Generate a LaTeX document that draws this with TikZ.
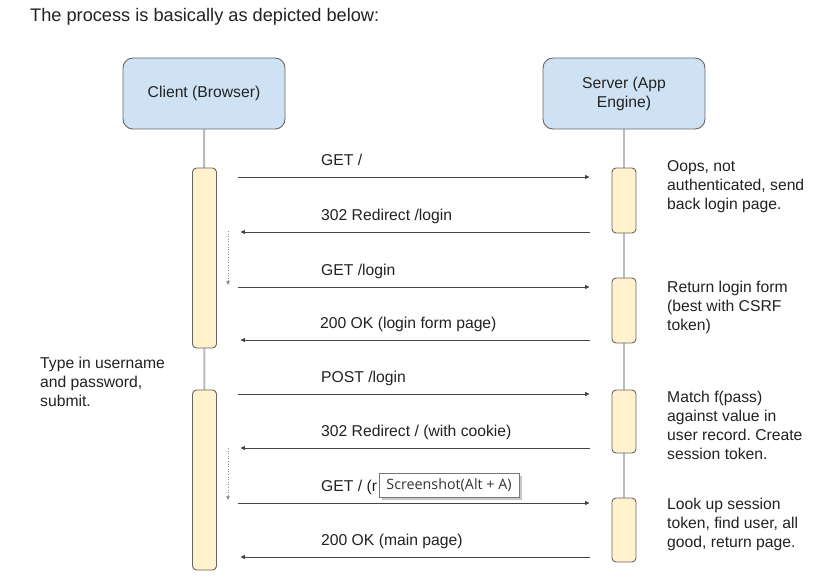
\documentclass[tikz,border=0pt]{standalone}
\usepackage{fontspec}
\setmainfont{Liberation Sans}
\newfontfamily\tipfamily{Open Sans}
\usetikzlibrary{arrows.meta,backgrounds}
\definecolor{headfill}{HTML}{CFE2F3}
\definecolor{actfill}{HTML}{FFF2CC}
\definecolor{boxline}{HTML}{666666}
\definecolor{lifecol}{HTML}{BBBBBB}
\definecolor{msgcol}{HTML}{444444}
\definecolor{txtcol}{HTML}{222222}
\definecolor{tipline}{HTML}{767676}
\newcommand\lblsize{\fontsize{15.7}{19}\selectfont}
\frenchspacing
\begin{document}
\begin{tikzpicture}[x=1pt,y=-1pt,
  head/.style={draw=boxline, fill=headfill, rounded corners=10pt, line width=0.9pt,
    minimum width=162pt, minimum height=71pt, inner sep=0pt, align=center,
    font=\lblsize, text=txtcol},
  act/.style={draw=boxline, fill=actfill, rounded corners=4pt, line width=0.9pt,
    minimum width=24pt, inner sep=0pt},
  life/.style={draw=lifecol, line width=2pt},
  msg/.style={draw=msgcol, line width=0.8pt, -{Triangle[length=4.5pt,width=4pt]}},
  rmsg/.style={msg, shorten <=21.5pt, shorten >=22pt},
  lmsg/.style={msg, shorten <=22pt, shorten >=23.5pt},
  dots/.style={draw=msgcol!60, line width=0.6pt, dotted, -{Triangle[length=4pt,width=3.5pt]}},
  lbl/.style={font=\lblsize, text=txtcol, inner sep=0pt, anchor=base west},
  note/.style={font=\lblsize, text=txtcol, inner sep=0pt, anchor=north west, align=left},
  tipbox/.style={draw=tipline, fill=white, line width=0.8pt, minimum width=140pt,
    minimum height=24pt, inner sep=0pt, font=\tipfamily\fontsize{14.3}{16}\selectfont, text=black!80}
]
\useasboundingbox (0,0) rectangle (839,586);

% title
\node[font=\fontsize{18.2}{21}\selectfont, text=txtcol, inner sep=0pt, anchor=base west] (title) at (30,22) {The process is basically as depicted below:};

% heads
\node[head] (client) at (204,93.5) {Client (Browser)};
\node[head] (server) at (624,93.5) {Server (App\\Engine)};

% activations
\node[act, minimum height=180pt] (ca1) at (204.5,258) {};
\node[act, minimum height=180pt] (ca2) at (204.5,480) {};
\node[act, minimum height=65pt] (sa1) at (624,200.5) {};
\node[act, minimum height=65pt] (sa2) at (624,310.5) {};
\node[act, minimum height=63pt] (sa3) at (624,421.5) {};
\node[act, minimum height=64pt] (sa4) at (624,530) {};

\begin{scope}[on background layer]
  \fill[white] (0,0) rectangle (839,586);
  \draw[life] (client.south) -- (ca2.south);
  \draw[life] (server.south) -- (sa4.south);
\end{scope}

% message rows
\coordinate (m1) at (0,177);
\coordinate (m2) at (0,232);
\coordinate (m3) at (0,287);
\coordinate (m4) at (0,340);
\coordinate (m5) at (0,394);
\coordinate (m6) at (0,448);
\coordinate (m7) at (0,503);
\coordinate (m8) at (0,557);

\draw[rmsg] (ca1.east |- m1) -- (sa1.west |- m1);
\draw[lmsg] (sa1.west |- m2) -- (ca1.east |- m2);
\draw[rmsg] (ca1.east |- m3) -- (sa2.west |- m3);
\draw[lmsg] (sa2.west |- m4) -- (ca1.east |- m4);
\draw[rmsg] (ca2.east |- m5) -- (sa3.west |- m5);
\draw[lmsg] (sa3.west |- m6) -- (ca2.east |- m6);
\draw[rmsg] (ca2.east |- m7) -- (sa4.west |- m7);
\draw[lmsg] (sa4.west |- m8) -- (ca2.east |- m8);

% message labels
\node[lbl] (l1) at (321,165) {GET /};
\node[lbl] (l2) at (321,220) {302 Redirect /login};
\node[lbl] (l3) at (321,275) {GET /login};
\node[lbl] (l4) at (320,328) {200 OK (login form page)};
\node[lbl] (l5) at (321,382) {POST /login};
\node[lbl] (l6) at (321,436) {302 Redirect / (with cookie)};
\node[lbl] (l7) at (321,491) {GET / (r};
\node[lbl] (l8) at (321,545) {200 OK (main page)};

% dotted self arrows
\coordinate (d1s) at (228,231);
\coordinate (d1e) at (228,285);
\coordinate (d2s) at (228,448);
\coordinate (d2e) at (228,500);
\draw[dots] (d1s) -- (d1e);
\draw[dots] (d2s) -- (d2e);

% notes
\node[note] (n1) at (667,157.7) {\strut Oops, not\\authenticated, send\\back login page.};
\node[note] (n2) at (667,278.7) {\strut Return login form\\(best with CSRF\\token)};
\node[note] (n3) at (667,389.4) {\strut Match f(pass)\\against value in\\user record. Create\\session token.};
\node[note] (n4) at (667,496) {\strut Look up session\\token, find user, all\\good, return page.};
\node[note] (n5) at (40,355) {\strut Type in username\\and password,\\submit.};

% tooltip
\fill[black!22] (381.5,475.5) rectangle (521.5,499.5);
\node[tipbox] (tip) at (449,485) {Screenshot(Alt + A)};
\end{tikzpicture}
\end{document}
